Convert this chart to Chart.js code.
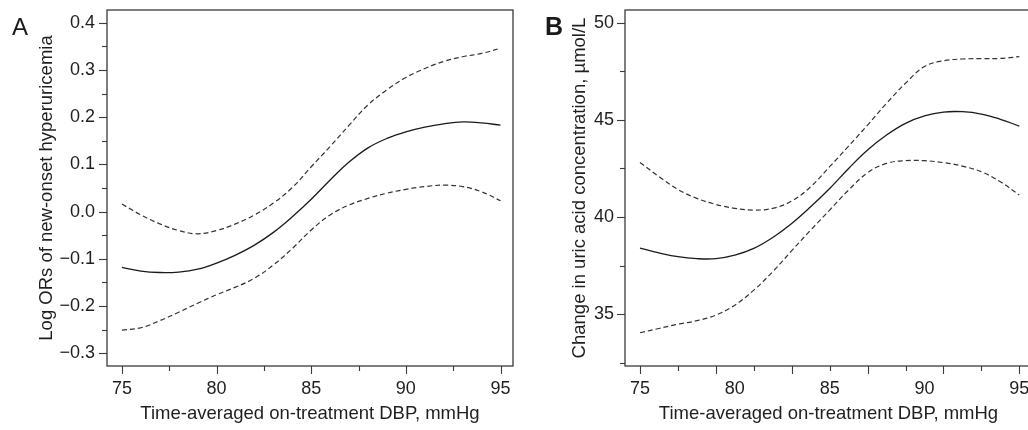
<!DOCTYPE html>
<html>
<head>
<meta charset="utf-8">
<script src="https://cdn.jsdelivr.net/npm/chart.js@4.4.1/dist/chart.umd.min.js"></script>
<style>
  html, body { margin: 0; padding: 0; background: #fff; overflow: hidden; }
  #wrap { position: relative; width: 1028px; height: 430px; overflow: hidden; }
  canvas { position: absolute; top: 0; }
  #chartA { left: 0; }
  #chartB { left: 514px; }
  .tag { position: absolute; font-family: "Liberation Sans", Arial, sans-serif; color: #1a1a1a; }
  #tagA { left: 12px; top: 15px; font-size: 24px; line-height: 24px; }
  #tagB { left: 545px; top: 14px; font-size: 25px; line-height: 25px; font-weight: bold; }
</style>
</head>
<body>
<div id="wrap">
  <canvas id="chartA" width="514" height="430"></canvas>
  <canvas id="chartB" width="520" height="430"></canvas>
  <div class="tag" id="tagA">A</div>
  <div class="tag" id="tagB">B</div>
</div>
<script>
// x values shared by both panels (DBP, mmHg)
const dbp = [75, 76, 77, 78, 79, 80, 81, 82, 83, 84, 85, 86, 87, 88, 89, 90, 91, 92, 93, 94, 95];

// panel A: log ORs of new-onset hyperuricemia
const orFit   = [-0.118, -0.126, -0.129, -0.128, -0.122, -0.109, -0.092, -0.071, -0.044, -0.011, 0.026, 0.067, 0.105, 0.135, 0.155, 0.169, 0.179, 0.186, 0.190, 0.188, 0.183];
const orUpper = [0.016, -0.007, -0.026, -0.040, -0.047, -0.040, -0.026, -0.007, 0.018, 0.051, 0.095, 0.138, 0.183, 0.226, 0.258, 0.284, 0.303, 0.318, 0.328, 0.335, 0.346];
const orLower = [-0.251, -0.246, -0.231, -0.213, -0.194, -0.176, -0.160, -0.141, -0.113, -0.078, -0.039, -0.007, 0.014, 0.028, 0.039, 0.047, 0.053, 0.056, 0.053, 0.042, 0.023];

// panel B: change in uric acid concentration, umol/L
const uaFit   = [38.40, 38.16, 37.96, 37.86, 37.86, 38.04, 38.39, 38.95, 39.67, 40.53, 41.47, 42.50, 43.45, 44.22, 44.82, 45.20, 45.40, 45.42, 45.30, 45.03, 44.68];
const uaUpper = [42.81, 42.08, 41.42, 40.96, 40.65, 40.45, 40.36, 40.45, 40.82, 41.56, 42.59, 43.65, 44.73, 45.85, 46.88, 47.74, 48.04, 48.13, 48.15, 48.16, 48.25];
const uaLower = [34.05, 34.27, 34.49, 34.67, 34.96, 35.47, 36.24, 37.19, 38.27, 39.33, 40.36, 41.39, 42.28, 42.76, 42.90, 42.90, 42.80, 42.62, 42.33, 41.82, 41.13];

// tick labels and tick marks
const xLabels  = [75, 80, 85, 90, 95];
const aXMajor  = [75, 80, 85, 90, 95];
const aXMinor  = [77.5, 82.5, 87.5, 92.5];
const aYLabels = [-0.3, -0.2, -0.1, 0.0, 0.1, 0.2, 0.3, 0.4];
const aYMinor  = [-0.25, -0.15, -0.05, 0.05, 0.15, 0.25, 0.35];
const bXMajor  = [75, 79, 83, 87, 91, 95];
const bXMinor  = [77, 81, 85, 89, 93];
const bYLabels = [35, 40, 45, 50];
const bYMinor  = [32.5, 37.5, 42.5, 47.5];

const FONT = '"Liberation Sans", Arial, Helvetica, sans-serif';
const INK = '#1f1f1f';

function pts(ys) {
  return dbp.map((x, i) => ({ x: x, y: ys[i] }));
}

// draws the box and the tick marks (R style, outside the box)
const framePlugin = {
  id: 'frame',
  afterDraw(chart, args, opts) {
    const { ctx, chartArea: a, scales } = chart;
    ctx.save();
    ctx.strokeStyle = '#3a3a3a';
    ctx.lineWidth = 1.3;
    ctx.strokeRect(a.left, a.top, a.right - a.left, a.bottom - a.top);
    ctx.lineWidth = 1.1;
    const mark = (scale, vals, len) => {
      vals.forEach((v) => {
        const p = Math.round(scale.getPixelForValue(v)) + 0.5;
        ctx.beginPath();
        if (scale.axis === 'x') {
          ctx.moveTo(p, a.bottom);
          ctx.lineTo(p, a.bottom + len);
        } else {
          ctx.moveTo(a.left, p);
          ctx.lineTo(a.left - len, p);
        }
        ctx.stroke();
      });
    };
    mark(scales.x, opts.xMajor, 8);
    mark(scales.x, opts.xMinor, 5);
    mark(scales.y, opts.yMajor, 8);
    mark(scales.y, opts.yMinor, 5);
    ctx.restore();
  }
};

function lineSet(ys, dashed) {
  return {
    data: pts(ys),
    borderColor: dashed ? '#333' : '#1a1a1a',
    borderWidth: dashed ? 1.2 : 1.3,
    borderDash: dashed ? [5, 3] : [],
    pointRadius: 0,
    tension: 0.4,
    fill: false
  };
}

// no extra room for the first/last label, the box is placed by hand
function noLabelPadding(scale) {
  scale.paddingTop = 0;
  scale.paddingBottom = 0;
  scale.paddingLeft = 0;
  scale.paddingRight = 0;
}

function makeChart(id, cfg) {
  return new Chart(document.getElementById(id), {
    type: 'line',
    data: {
      datasets: [lineSet(cfg.fit, false), lineSet(cfg.upper, true), lineSet(cfg.lower, true)]
    },
    options: {
      responsive: false,
      animation: false,
      devicePixelRatio: 1,
      layout: { padding: { left: 0, top: 10, right: cfg.padRight, bottom: 0 } },
      plugins: {
        legend: { display: false },
        tooltip: { enabled: false },
        frame: { xMajor: cfg.xMajor, xMinor: cfg.xMinor, yMajor: cfg.yLabels, yMinor: cfg.yMinor }
      },
      scales: {
        x: {
          type: 'linear',
          min: cfg.xMin,
          max: cfg.xMax,
          grid: { display: false, drawTicks: false },
          border: { display: false },
          afterBuildTicks: (scale) => { scale.ticks = xLabels.map((v) => ({ value: v })); },
          afterFit: (scale) => { scale.height = 64; noLabelPadding(scale); },
          ticks: {
            padding: 12,
            color: INK,
            font: { family: FONT, size: 18 },
            maxRotation: 0,
            callback: (v) => String(v)
          },
          title: {
            display: true,
            text: 'Time-averaged on-treatment DBP, mmHg',
            color: INK,
            font: { family: FONT, size: 18.5 },
            padding: { top: 0, bottom: 5 }
          }
        },
        y: {
          type: 'linear',
          min: cfg.yMin,
          max: cfg.yMax,
          grid: { display: false, drawTicks: false },
          border: { display: false },
          afterBuildTicks: (scale) => { scale.ticks = cfg.yLabels.map((v) => ({ value: v })); },
          afterFit: (scale) => { scale.width = cfg.yWidth; noLabelPadding(scale); },
          ticks: {
            padding: cfg.yPad,
            color: INK,
            font: { family: FONT, size: 18 },
            callback: cfg.yFormat
          },
          title: {
            display: true,
            text: cfg.yTitle,
            color: INK,
            font: { family: FONT, size: 18.5 },
            padding: { top: cfg.yTitlePad, bottom: 0 }
          }
        }
      }
    },
    plugins: [framePlugin]
  });
}

makeChart('chartA', {
  fit: orFit, upper: orUpper, lower: orLower,
  xMin: 74.21, xMax: 95.66, yMin: -0.327, yMax: 0.427,
  xMajor: aXMajor, xMinor: aXMinor, yLabels: aYLabels, yMinor: aYMinor,
  yWidth: 107, yPad: 12, yTitlePad: 36, padRight: 1,
  yTitle: 'Log ORs of new-onset hyperuricemia',
  yFormat: (v) => (v < 0 ? '\u2212' + Math.abs(v).toFixed(1) : v.toFixed(1))
});

makeChart('chartB', {
  fit: uaFit, upper: uaUpper, lower: uaLower,
  xMin: 74.21, xMax: 95.67, yMin: 32.34, yMax: 50.65,
  xMajor: bXMajor, xMinor: bXMinor, yLabels: bYLabels, yMinor: bYMinor,
  yWidth: 111, yPad: 11, yTitlePad: 55, padRight: 2,
  yTitle: 'Change in uric acid concentration, \u00b5mol/L',
  yFormat: (v) => String(v)
});
</script>
</body>
</html>
